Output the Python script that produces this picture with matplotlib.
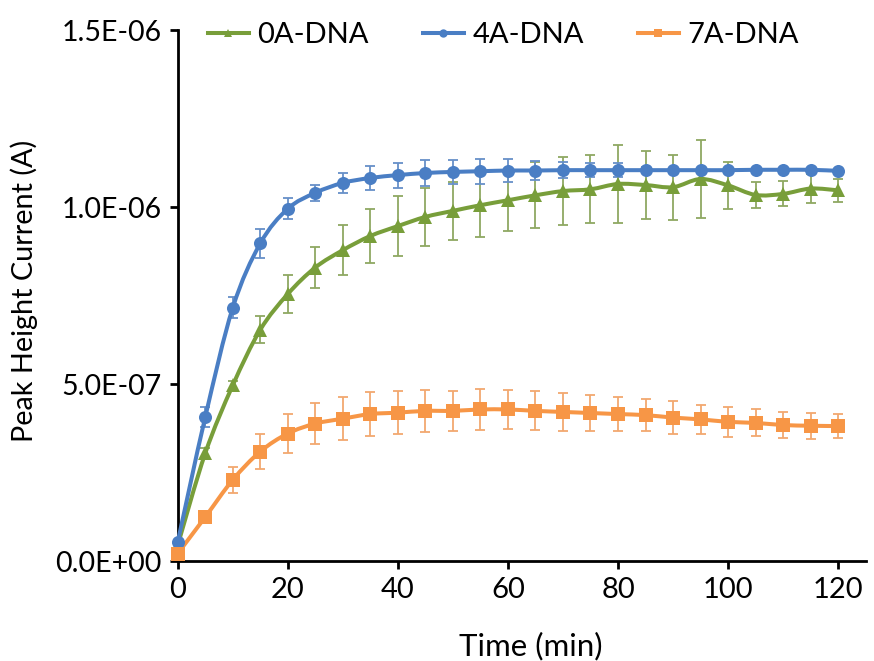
import numpy as np
import matplotlib
matplotlib.use('Agg')
import matplotlib.pyplot as plt
from matplotlib.path import Path
from matplotlib.patches import PathPatch
from matplotlib.lines import Line2D
from matplotlib.ticker import FuncFormatter

plt.rcParams['font.family'] = ['Lato', 'DejaVu Sans']

###  peak height current (uA) every 5 min, with standard deviations
time = list(range(0, 125, 5))

dna0 = [0.045, 0.305, 0.497, 0.654, 0.755, 0.830, 0.879, 0.919, 0.947, 0.973,
        0.990, 1.006, 1.020, 1.034, 1.046, 1.051, 1.066, 1.063, 1.057, 1.080,
        1.062, 1.035, 1.038, 1.053, 1.048]
dna0_sd = [0.005, 0.015, 0.012, 0.038, 0.053, 0.059, 0.071, 0.076, 0.084, 0.082,
           0.082, 0.089, 0.087, 0.093, 0.095, 0.096, 0.110, 0.095, 0.092, 0.110,
           0.067, 0.037, 0.035, 0.042, 0.032]

dna4 = [0.054, 0.407, 0.716, 0.898, 0.996, 1.041, 1.069, 1.083, 1.091, 1.097,
        1.100, 1.102, 1.104, 1.104, 1.105, 1.105, 1.105, 1.105, 1.105, 1.105,
        1.105, 1.106, 1.106, 1.106, 1.103]
dna4_sd = [0.010, 0.028, 0.030, 0.042, 0.029, 0.023, 0.028, 0.033, 0.035, 0.036,
           0.035, 0.035, 0.033, 0.028, 0.022, 0.020, 0.020, 0.008, 0.006, 0.006,
           0.005, 0.005, 0.005, 0.005, 0.005]

dna7 = [0.022, 0.125, 0.230, 0.310, 0.361, 0.389, 0.403, 0.416, 0.420, 0.425,
        0.425, 0.429, 0.429, 0.425, 0.422, 0.419, 0.416, 0.413, 0.406, 0.401,
        0.394, 0.391, 0.385, 0.383, 0.382]
dna7_sd = [0.000, 0.000, 0.037, 0.050, 0.056, 0.058, 0.061, 0.063, 0.061, 0.060,
           0.057, 0.058, 0.056, 0.055, 0.054, 0.052, 0.049, 0.045, 0.046, 0.040,
           0.042, 0.038, 0.036, 0.037, 0.033]

labels = ['0A-DNA', '4A-DNA', '7A-DNA']



def smoothPath(x, y):
    ###  catmull-rom style bezier through the points (like excel smoothed lines)
    pts = np.column_stack([x, y])
    verts = [pts[0]]
    codes = [Path.MOVETO]
    for i in range(len(pts)-1):
        p0 = pts[max(i-1, 0)]
        p1 = pts[i]
        p2 = pts[i+1]
        p3 = pts[min(i+2, len(pts)-1)]
        verts += [p1 + (p2-p0)/6., p2 - (p3-p1)/6., p2]
        codes += [Path.CURVE4]*3
    return Path(verts, codes)


fig = plt.figure(figsize=(8.74, 6.61), dpi=100)
ax = fig.add_axes([0.2033, 0.1508, 0.7872, 0.8033])

series = [
    (dna0, dna0_sd, '#789e3a', '#8fa862', '^'),
    (dna4, dna4_sd, '#4a7ec4', '#6790c8', 'o'),
    (dna7, dna7_sd, '#f79646', '#f2a86f', 's'),
]

handles = []
for (vals, sd, col, ecol, mk), lab in zip(series, labels):
    y = np.array(vals)*1e-6
    err = np.array(sd)*1e-6
    ax.errorbar(time, y, yerr=err, fmt='none', ecolor=ecol, elinewidth=1.3,
                capsize=3.8, capthick=1.3, zorder=2)
    ax.add_patch(PathPatch(smoothPath(time, y), fill=False, edgecolor=col,
                           lw=2.9, zorder=3, clip_on=False))
    ms = 10.5 if mk == '^' else 9.4
    ax.plot(time, y, linestyle='none', marker=mk, ms=ms, color=col,
            markeredgewidth=0, zorder=4, clip_on=False)
    handles.append(Line2D([], [], color=col, lw=2.9, marker=mk, ms=6,
                          markeredgewidth=0, label=lab))

ax.set_xlim(0, 125)
ax.set_ylim(0, 1.5e-6)
ax.set_xticks([0, 20, 40, 60, 80, 100, 120])
ax.set_yticks([0, 5e-7, 1e-6, 1.5e-6])
ax.yaxis.set_major_formatter(FuncFormatter(lambda v, p: '%.1E' % v))

for s in ['top', 'right']:
    ax.spines[s].set_visible(False)
for s in ['left', 'bottom']:
    ax.spines[s].set_linewidth(2.0)

ax.tick_params(direction='out', length=5.5, width=2.0)
ax.tick_params(axis='x', labelsize=21, pad=6)
ax.tick_params(axis='y', labelsize=20.5, pad=6)

fig.text(0.0275, 0.560, 'Peak Height Current (A)', rotation=90,
         ha='center', va='center', fontsize=20.8)
fig.text(0.6075, 0.023, 'Time (min)', ha='center', va='center', fontsize=22.5)

fig.legend(handles=handles, loc='center', bbox_to_anchor=(0.576, 0.947),
           ncol=3, frameon=False, fontsize=21, handlelength=1.4,
           handletextpad=0.3, columnspacing=1.85)

fig.savefig('out.png', dpi=100)
